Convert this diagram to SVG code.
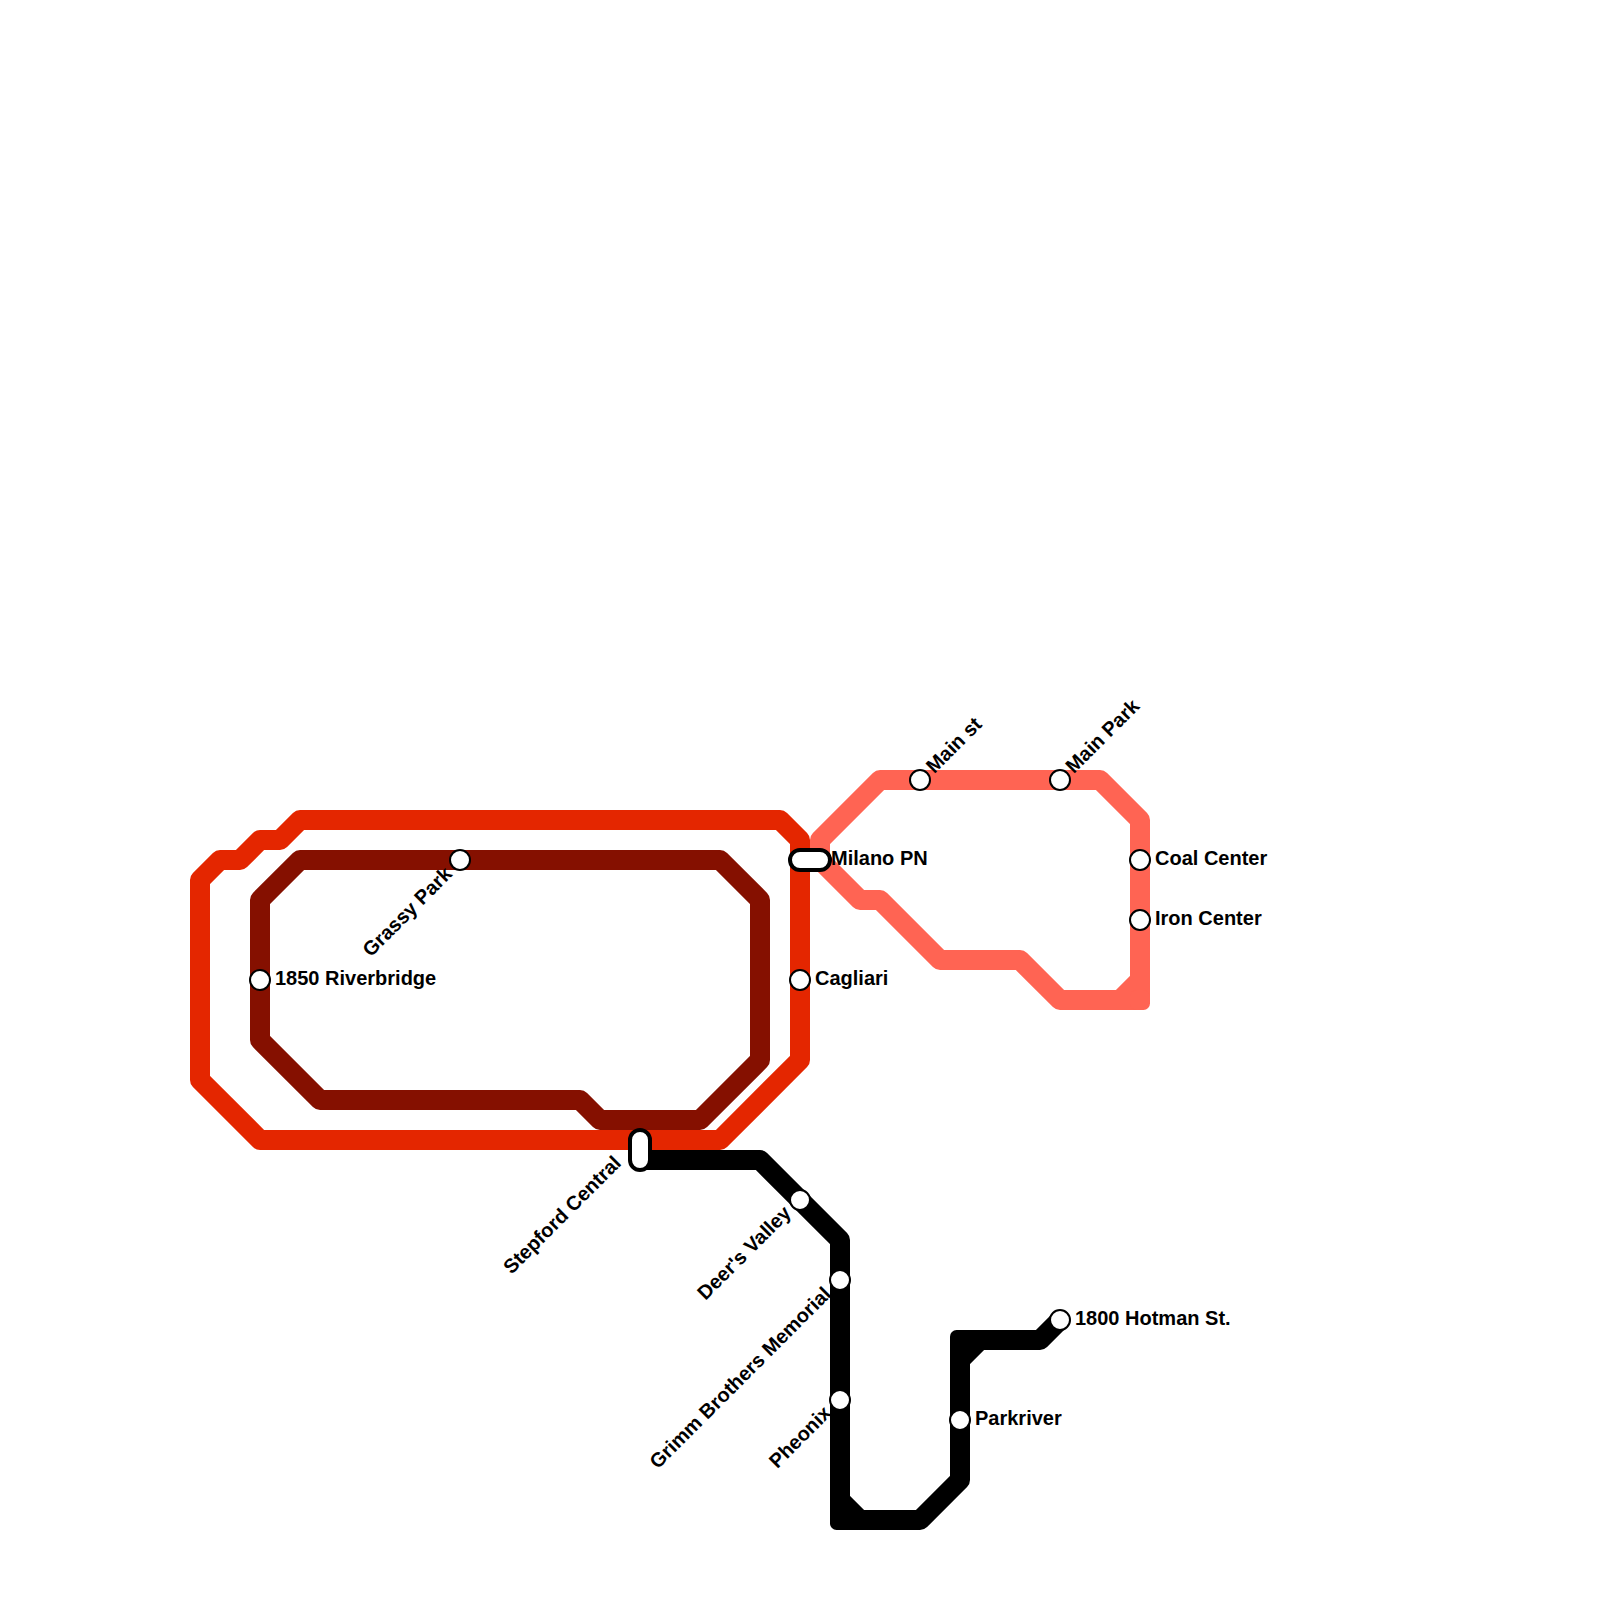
<svg xmlns="http://www.w3.org/2000/svg" width="1600" height="1600" viewBox="0 0 1600 1600">
<style>
.l{fill:none;stroke-width:20;stroke-linejoin:round;stroke-linecap:round}
.red{stroke:#e42600}.dark{stroke:#851000}.salmon{stroke:#ff6453}.black{stroke:#000}
.s{fill:#fff;stroke:#000;stroke-width:2}
.p{fill:#fff;stroke:#000;stroke-width:4}
text{font-family:"Liberation Sans",Arial,sans-serif;font-weight:700;font-size:20px;fill:#000}
.e{text-anchor:end}
</style>
<rect width="1600" height="1600" fill="#fff"/>
<g id="connectors">
<path class="l salmon" d="M820 860V840L880 780H1100L1140 820V1000H1060L1020 960H940L880 900H860L820 860M1120 1000L1140 980"/>
<rect x="1130" y="990" width="20" height="20" rx="6.5" fill="#ff6453"/>
<path class="l black" d="M640 1160H760L840 1240V1520H920L960 1480V1340H1040L1060 1320M840 1500L860 1520M980 1340L960 1360"/>
<rect x="830" y="1510" width="20" height="20" rx="6.5"/>
<rect x="950" y="1330" width="20" height="20" rx="6.5"/>
<path class="l dark" d="M300 860H720L760 900V1060L700 1120H600L580 1100H320L260 1040V900Z"/>
<path class="l red" d="M300 820H780L800 840V1060L720 1140H260L200 1080V880L220 860H240L260 840H280Z"/>
</g>
<g id="grassy-park"><circle class="s" cx="460" cy="860" r="10"/><text class="e" transform="translate(449 871) rotate(-45)" y="6">Grassy Park</text></g>
<g id="riverbridge"><circle class="s" cx="260" cy="980" r="10"/><text x="275" y="985">1850 Riverbridge</text></g>
<g id="cagliari"><circle class="s" cx="800" cy="980" r="10"/><text x="815" y="985">Cagliari</text></g>
<g id="milano-pn"><rect class="p" x="790" y="850" width="40" height="20" rx="10"/><text x="831" y="865">Milano PN</text></g>
<g id="main-st"><circle class="s" cx="920" cy="780" r="10"/><text transform="translate(930 770) rotate(-45)" y="6">Main st</text></g>
<g id="main-park"><circle class="s" cx="1060" cy="780" r="10"/><text transform="translate(1069.5 770) rotate(-45)" y="6">Main Park</text></g>
<g id="coal-center"><circle class="s" cx="1140" cy="860" r="10"/><text x="1155" y="865">Coal Center</text></g>
<g id="iron-center"><circle class="s" cx="1140" cy="920" r="10"/><text x="1155" y="925">Iron Center</text></g>
<g id="stepford-central"><rect class="p" x="630" y="1130" width="20" height="40" rx="10"/><text class="e" transform="translate(618 1160) rotate(-45)" y="6">Stepford Central</text></g>
<g id="deers-valley"><circle class="s" cx="800" cy="1200" r="10"/><text class="e" transform="translate(788 1210) rotate(-45)" y="6">Deer's Valley</text></g>
<g id="grimm"><circle class="s" cx="840" cy="1280" r="10"/><text class="e" transform="translate(828 1291) rotate(-45)" y="6">Grimm Brothers Memorial</text></g>
<g id="pheonix"><circle class="s" cx="840" cy="1400" r="10"/><text class="e" transform="translate(828 1410) rotate(-45)" y="6">Pheonix</text></g>
<g id="parkriver"><circle class="s" cx="960" cy="1420" r="10"/><text x="975" y="1425">Parkriver</text></g>
<g id="hotman"><circle class="s" cx="1060" cy="1320" r="10"/><text x="1075" y="1325">1800 Hotman St.</text></g>
</svg>
